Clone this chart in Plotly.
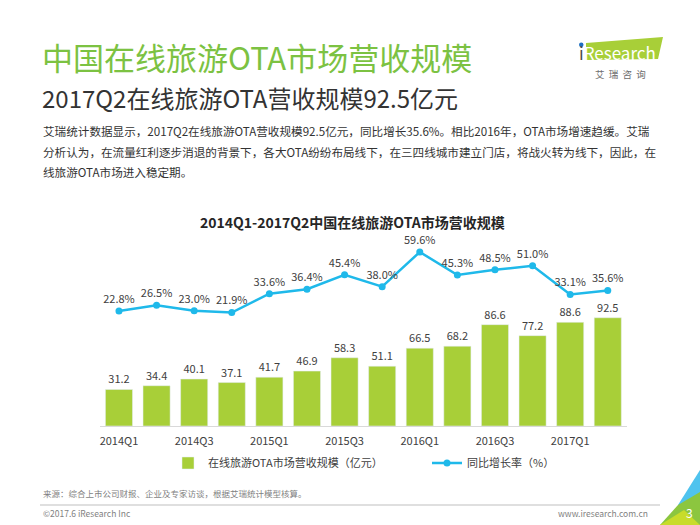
import plotly.graph_objects as go

quarters = ["2014Q1", "2014Q2", "2014Q3", "2014Q4", "2015Q1", "2015Q2", "2015Q3",
            "2015Q4", "2016Q1", "2016Q2", "2016Q3", "2016Q4", "2017Q1", "2017Q2"]
revenue = [31.2, 34.4, 40.1, 37.1, 41.7, 46.9, 58.3, 51.1, 66.5, 68.2, 86.6, 77.2, 88.6, 92.5]
growth = [22.8, 26.5, 23.0, 21.9, 33.6, 36.4, 45.4, 38.0, 59.6, 45.3, 48.5, 51.0, 33.1, 35.6]
tick_labels = ["2014Q1", "2014Q3", "2015Q1", "2015Q3", "2016Q1", "2016Q3", "2017Q1"]

FONT = "Noto Sans CJK SC"
GREEN = "#a8cf38"
BLUE = "#1fb9ea"
TXT = "#404040"

fig = go.Figure()

fig.add_trace(go.Bar(
    x=quarters, y=revenue, name="在线旅游OTA市场营收规模（亿元）",
    marker=dict(color=GREEN), width=0.72,
    text=[f"{v:.1f}" for v in revenue], textposition="outside",
    textfont=dict(size=11, color=TXT), cliponaxis=False,
))

fig.add_trace(go.Scatter(
    x=quarters, y=growth, name="同比增长率（%）", yaxis="y2",
    mode="lines+markers+text",
    line=dict(color=BLUE, width=2.5), marker=dict(color=BLUE, size=7),
    text=[f"{v:.1f}%" for v in growth], textposition="top center",
    textfont=dict(size=11, color=TXT), cliponaxis=False,
))

fig.update_layout(
    width=700, height=525,
    margin=dict(l=0, r=0, t=0, b=0),
    paper_bgcolor="white", plot_bgcolor="white",
    font=dict(family=FONT, color=TXT),
    showlegend=True,
    xaxis=dict(
        domain=[0.1431, 0.8951], type="category", range=[-0.5, 13.5],
        tickvals=tick_labels, ticktext=tick_labels,
        tickfont=dict(size=11, color=TXT), ticklabelstandoff=5,
        showline=True, linecolor="#d9d9d9", linewidth=1,
        ticks="", showgrid=False,
    ),
    yaxis=dict(
        domain=[0.1886, 0.5619], range=[0, 167.5],
        visible=False, showgrid=False,
    ),
    yaxis2=dict(
        overlaying="y", range=[-48.75, 73.3],
        visible=False, showgrid=False,
    ),
    legend=dict(
        orientation="h", x=0.24, y=(525 - 463) / 525, xanchor="left", yanchor="middle",
        font=dict(size=11, color=TXT), entrywidth=214, entrywidthmode="pixels",
        bgcolor="rgba(0,0,0,0)",
    ),
)

def px_x(v):
    return v / 700

def px_y(v):
    return (525 - v) / 525

notes = [
    dict(text="中国在线旅游OTA市场营收规模", x=40, y=57, size=31, color="#7cc242", anchor="left"),
    dict(text="2017Q2在线旅游OTA营收规模92.5亿元", x=40, y=97, size=24, color="#333333", anchor="left"),
    dict(text="艾瑞统计数据显示，2017Q2在线旅游OTA营收规模92.5亿元，同比增长35.6%。相比2016年，OTA市场增速趋缓。艾瑞",
         x=41, y=131, size=11.6, color="#333333", anchor="left"),
    dict(text="分析认为，在流量红利逐步消退的背景下，各大OTA纷纷布局线下，在三四线城市建立门店，将战火转为线下，因此，在",
         x=41, y=152, size=11.6, color="#333333", anchor="left"),
    dict(text="线旅游OTA市场进入稳定期。", x=41, y=172, size=11.6, color="#333333", anchor="left"),
    dict(text="<b>2014Q1-2017Q2中国在线旅游OTA市场营收规模</b>", x=352, y=222, size=14, color="#262626", anchor="center"),
    dict(text="来源：综合上市公司财报、企业及专家访谈，根据艾瑞统计模型核算。", x=41, y=493, size=8.5, color="#7f7f7f", anchor="left"),
    dict(text="©2017.6 iResearch Inc", x=41, y=513, size=8.5, color="#7f7f7f", anchor="left"),
    dict(text="www.iresearch.com.cn", x=650, y=513, size=8.5, color="#7f7f7f", anchor="right"),
    dict(text="3", x=689, y=512, size=12, color="white", anchor="center"),
    dict(text="艾  瑞  咨  询", x=620, y=74, size=9.5, color="#6d6d6d", anchor="center"),
    dict(text="<span style='color:#4a4a4a'>i</span>Research", x=577, y=52, size=17, color="white", anchor="left"),
]
for n in notes:
    fig.add_annotation(
        text=n["text"], x=px_x(n["x"]), y=px_y(n["y"]), xref="paper", yref="paper",
        xanchor=n["anchor"], yanchor="middle", showarrow=False,
        font=dict(family=FONT, size=n["size"], color=n["color"]),
    )

def path(points):
    return "M " + " L ".join(f"{px_x(a)},{px_y(b)}" for a, b in points) + " Z"

# logo plate, footer line and corner decoration
fig.add_shape(type="path", xref="paper", yref="paper", line_width=0, fillcolor="#a8cf38",
              path=path([(586, 43), (663, 37), (658, 59), (586, 60)]), layer="below")
fig.add_shape(type="circle", xref="paper", yref="paper", line_width=0, fillcolor="#1f6fc2",
              x0=px_x(579), x1=px_x(583.5), y0=px_y(47), y1=px_y(42.5))
fig.add_shape(type="line", xref="paper", yref="paper", line=dict(color="#bfbfbf", width=1),
              x0=px_x(40), x1=px_x(660), y0=px_y(505), y1=px_y(505))
fig.add_shape(type="path", xref="paper", yref="paper", line_width=0, fillcolor="#4fc3ee",
              path=path([(700, 470), (678, 505), (700, 505)]))
fig.add_shape(type="path", xref="paper", yref="paper", line_width=0, fillcolor="#8cc63f",
              path=path([(678, 505), (700, 492), (700, 525), (660, 525)]))
fig.add_shape(type="path", xref="paper", yref="paper", line_width=0, fillcolor="#c8dc2a",
              path=path([(660, 525), (684, 510), (700, 525)]))

# the page's default body margin would push the 700x525 figure off the window
fig.write_html("out.html", config={"displayModeBar": False},
               post_script="document.body.style.margin='0';")
